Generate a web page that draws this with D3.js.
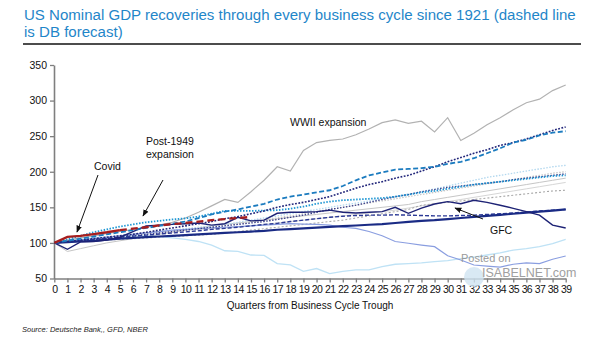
<!DOCTYPE html>
<meta charset="utf-8">
<body style="margin:0;background:#fff">
<script src="https://cdn.jsdelivr.net/npm/d3@7"></script>
<svg id="chart" width="605" height="341"></svg>
<script>
// quarters 0..39 from the cycle trough
var quarters = d3.range(0, 40)
var yTicks = [50, 100, 150, 200, 250, 300, 350]

// index = 100 at trough
var wwii        = [100,104,107,110,113,116,119,122,125,129,135,143,152,161,157,172,188,207,201,230,241,244,246,252,260,269,273,268,271,256,276,244,254,266,276,287,297,302,314,322]
var blueDash    = [100,103,106,109,112,115,118,121,124,127,130,135,140,144,147,151,155,161,165,168,171,174,180,188,195,199,203,204,205,207,211,214,219,226,233,241,245,251,255,257]
var navyDot1    = [100,102,104,106,108,110,112,115,118,121,124,127,130,134,137,141,145,150,154,157,161,165,171,177,182,186,191,195,201,207,214,220,226,231,237,241,246,252,258,263]
var covid       = [100,108.5,110,112.5,115,118,120,122,124.5,126.5,128,130,132,133.5,135,136.5]
var covidForecastFrom = 5
var thickNavy   = [100,101,102,103,104.5,106,107,108,109,110,111,112,113,114,115,116,117,118.5,119.5,120.5,121.5,122.5,123.5,124.5,125.5,126.5,128,129.5,131,132,133.5,135,136.5,138,139.5,141,142.5,144,145.5,147]
var gfc         = [100,91,101.5,102,104,108,116,124,125,126,127,128,125,127,136,131,132,141.6,143,143,144,146,143,142,143,144,150,141.6,149,154.7,158,155,160,157,153,148.6,144,139,125,121]
var navyDash    = [100,102,103.5,105,106.5,108,109.5,111,112.5,114,115.5,117,119,120.5,122,124,126,127.5,130,132,134,136,137.5,138.5,139,139,139.5,139,138.5,138,138,138.5,139,140,141,142,143.5,145,146,147]
var periwinkle  = [100,102,104,106,108,110,112,114,116,118,119,120,121,122,123,124,125,126,127,126.5,126,125,122,120.5,116,110,102,99.5,97,94.7,82,76,69,67.5,66,70,72,71,77,81.6]
var depression  = [100,103,105,107,108,109,110,110,109,107,105,102,97,89,88,83,82.5,71,69,60,64,57,60,62,62,66.6,70,71,72,73.6,75,78,80,83,86,90,92,94.7,99,105]
var tealDot     = [100,105,110,115,119,123,126,129,131,133,134.5,137,141,145,145,145,145.5,146,148,151,155,158,160,161,162,163,165,168,171,173,176,179,182,184,186,188,190,192,194,195]
var navyDot2    = [100,101.5,103,104.5,106,108,110,112,114,116,118,120,122,124,126,128,130,133,136,139,143,147,150,153,157,161,165,168,172,175,178,180,182,184,186,189,191,193,195,197]
var lightDot    = [100,102,104,106,108,110,112,114,116,118,120,122,124,126,129,132,135,138,141,144,147,150,153,156,159,162,165,168,172,176,180,184,188,192,195,198,201,204,207,209]
var grayDot     = [100,101,103,105,107,109,111,113,115,117,119,121,123,125,127,129,132,135,138,141,144,147,150,153,156,159,162,165,168,171,174,177,180,183,186,189,192,195,198,200]
var graySolid1  = [100,88,92,96,100,103,106,109,112,115,118,121,124,126,128,130,132,134,136,138,140,142,144,146,148,150,152,154,158,161,164,167,170,173,176,179,182,185,188,191]
var grayDot2    = [100,101,102,103,104,105,106,107,108,109,110,111,112,114,116,118,120,122,124,126,128,130,132,135,138,141,144,147,153,155,157,159,161,163,165,167,169,171,173,174]
var graySolid2  = [100,102,104,106,108,110,112,114,116,117,118,119,120,121,122,124,126,128,130,132,134,136,138,140,142,144,146,149,152,155,158,161,164,167,170,173,176,179,182,185]

var series = [
  {v: graySolid2, c: "#d6d6d6", w: 1},
  {v: graySolid1, c: "#c6c6c6", w: 1},
  {v: grayDot,    c: "#c4c4c4", w: 1.2, d: "1.5,1.5"},
  {v: grayDot2,   c: "#a8a8a8", w: 1.1, d: "2,2"},
  {v: lightDot,   c: "#b3d8ef", w: 1.3, d: "1.5,1.5"},
  {v: depression, c: "#bfe2f5", w: 1.3},
  {v: periwinkle, c: "#8a9ee0", w: 1.2},
  {v: wwii,       c: "#b2b2b2", w: 1.2},
  {v: navyDot2,   c: "#3a3f8a", w: 1.3, d: "1.5,1.5"},
  {v: tealDot,    c: "#1f97d4", w: 1.8, d: "1.5,1.5"},
  {v: navyDash,   c: "#2c3a96", w: 1.4, d: "4,2"},
  {v: thickNavy,  c: "#1a2b85", w: 2.2},
  {v: gfc,        c: "#1d2275", w: 1.4},
  {v: navyDot1,   c: "#22267a", w: 1.6, d: "1.8,1.5"},
  {v: blueDash,   c: "#1b7bbf", w: 1.8, d: "5,2.5"}
]

var svg = d3.select("#chart")
var x = d3.scaleLinear().domain([0, 39]).range([54.3, 565.7])
var y = d3.scaleLinear().domain([50, 350]).range([278.5, 65])
var line = d3.line().x(function(d, i){ return x(i) }).y(function(d){ return y(d) })

var font = "'Liberation Sans',Arial,sans-serif"

// title, sized to fit the width of the rule under it
var title = svg.append("g").attr("fill", "#1f86c9")
  .style("font-family", font).style("font-size", "16px")
var t1 = title.append("text").attr("x", 24).attr("y", 20)
  .text("US Nominal GDP recoveries through every business cycle since 1921 (dashed line")
var t2 = title.append("text").attr("x", 24).attr("y", 37).text("is DB forecast)")
var fs = 16 * 552 / t1.node().getComputedTextLength()
title.style("font-size", fs + "px")
svg.append("line").attr("x1", 23).attr("x2", 581).attr("y1", 44).attr("y2", 44)
  .attr("stroke", "#111").attr("stroke-width", 1.5)

// axes
var yAxis = svg.append("g").attr("transform", "translate(54,0)")
  .call(d3.axisLeft(y).tickValues(yTicks).tickSize(4).tickSizeOuter(0))
var xAxis = svg.append("g").attr("transform", "translate(0,278.5)")
  .call(d3.axisBottom(x).tickValues(quarters).tickSize(4).tickSizeOuter(0).tickFormat(d3.format("d")))
;[yAxis, xAxis].forEach(function(a){
  a.select(".domain").attr("stroke", "#7f7f7f").attr("stroke-width", 1.6)
  a.selectAll(".tick line").attr("stroke", "#7f7f7f").attr("stroke-width", 1.3)
  a.selectAll("text").attr("fill", "#111").style("font-family", font).style("font-size", "10.5px")
})
yAxis.selectAll("text").attr("x", -7)
xAxis.selectAll("text").attr("y", 7).style("letter-spacing", "-0.6px")

// lines
series.forEach(function(s){
  svg.append("path").datum(s.v).attr("d", line).attr("fill", "none")
    .attr("stroke", s.c).attr("stroke-width", s.w)
    .attr("stroke-dasharray", s.d || null)
})
// covid: actual then DB forecast
var covidLine = d3.line().x(function(d){ return x(d[0]) }).y(function(d){ return y(d[1]) })
var covidPts = covid.map(function(v, i){ return [i, v] })
svg.append("path").datum(covidPts.slice(0, covidForecastFrom + 1)).attr("d", covidLine)
  .attr("fill", "none").attr("stroke", "#a61e1e").attr("stroke-width", 2.3)
svg.append("path").datum(covidPts.slice(covidForecastFrom)).attr("d", covidLine)
  .attr("fill", "none").attr("stroke", "#a61e1e").attr("stroke-width", 2.3).attr("stroke-dasharray", "7,4")

// annotations
svg.append("defs").append("marker").attr("id", "arr").attr("viewBox", "0 0 10 10")
  .attr("refX", 9).attr("refY", 5).attr("markerWidth", 7).attr("markerHeight", 7).attr("orient", "auto")
  .append("path").attr("d", "M0,1 L10,5 L0,9 z").attr("fill", "#111")
var notes = [
  {t: ["WWII expansion"], x: 290, y: 126},
  {t: ["Post-1949", "expansion"], x: 146, y: 145},
  {t: ["Covid"], x: 94, y: 170},
  {t: ["GFC"], x: 490, y: 234}
]
notes.forEach(function(n){
  var t = svg.append("text").attr("x", n.x).attr("y", n.y).attr("fill", "#111")
    .style("font-family", font).style("font-size", "10.5px")
  n.t.forEach(function(s, i){ t.append("tspan").attr("x", n.x).attr("dy", i ? 12.5 : 0).text(s) })
})
var arrows = [[98, 175, 77, 232], [163, 180, 143, 216], [483, 219, 455, 208]]
arrows.forEach(function(a){
  svg.append("line").attr("x1", a[0]).attr("y1", a[1]).attr("x2", a[2]).attr("y2", a[3])
    .attr("stroke", "#111").attr("stroke-width", 1).attr("marker-end", "url(#arr)")
})

// axis title and source
svg.append("text").attr("x", 310).attr("y", 309).attr("text-anchor", "middle")
  .style("font-family", font).style("font-size", "10px").attr("fill", "#111")
  .text("Quarters from Business Cycle Trough")
svg.append("text").attr("x", 22).attr("y", 332).style("font-family", font)
  .style("font-size", "7.5px").style("font-style", "italic").attr("fill", "#222")
  .text("Source: Deutsche Bank,, GFD, NBER")

// watermark
svg.append("circle").attr("cx", 474).attr("cy", 277).attr("r", 10).attr("fill", "#cfe4f1").attr("opacity", 0.8)
svg.append("text").attr("x", 461).attr("y", 262).style("font-family", font).style("font-size", "11px")
  .attr("fill", "#9a9a9a").text("Posted on")
svg.append("text").attr("x", 482).attr("y", 277).style("font-family", font).style("font-size", "12.5px")
  .attr("fill", "#a0a0a0").text("ISABELNET.com")
</script>
</body>
